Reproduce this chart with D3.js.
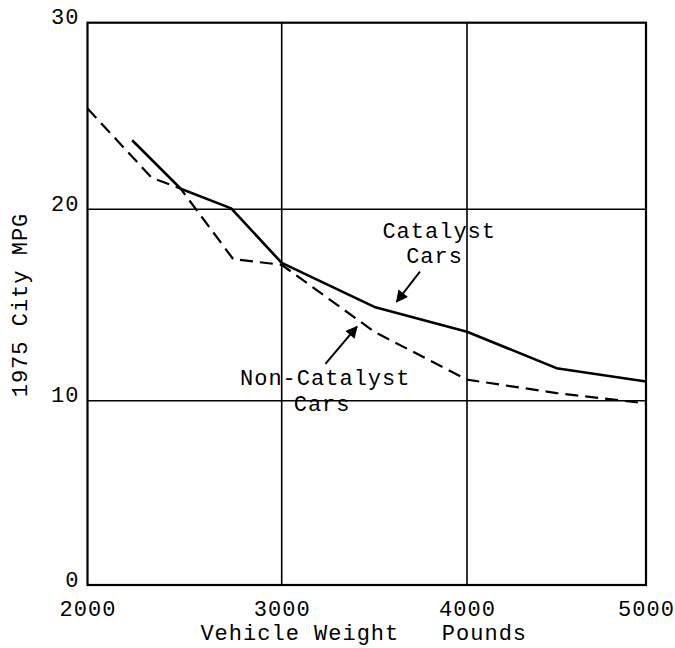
<!DOCTYPE html>
<html>
<head>
<meta charset="utf-8">
<script src="https://cdn.jsdelivr.net/npm/d3@7"></script>
<style>
  html, body { margin: 0; padding: 0; background: #fff; }
  svg { display: block; }
  text { font-family: "Liberation Mono", "DejaVu Sans Mono", monospace; fill: #000; }
</style>
</head>
<body>
<svg id="chart" width="675" height="648"></svg>
<script>
// ---- data ----
const weightTicks = [2000, 3000, 4000, 5000];
const mpgTicks = [0, 10, 20, 30];

const catalystWeight = [2230, 2480, 2740, 3000, 3500, 4000, 4500, 5000];
const catalystMPG    = [23.7, 21.1, 20.05, 17.2, 14.9, 13.6, 11.7, 11.0];

const nonCatalystWeight = [2000, 2330, 2480, 2750, 3000, 3500, 4000, 4500, 5000];
const nonCatalystMPG    = [25.4, 21.7, 21.1, 17.4, 17.1, 13.6, 11.1, 10.4, 9.85];

const xTitle = "Vehicle Weight   Pounds";
const yTitle = "1975 City MPG";

// annotation anchors (data units)
const labelCatalyst = { lines: ["Catalyst", "Cars"], x: [3850, 3825], y: [18.5, 17.2] };
const labelNonCatalyst = { lines: ["Non-Catalyst", "Cars"], x: [3235, 3218], y: [10.82, 9.46] };
const arrowCatalyst = { from: [3746, 16.74], to: [3620, 15.17] };
const arrowNonCatalyst = { from: [3236, 11.92], to: [3406, 13.87] };

// ---- scales ----
const svg = d3.select("#chart");
const x = d3.scaleLinear().domain(weightTicks).range([87.5, 281.7, 467, 646]);
const y = d3.scaleLinear().domain(mpgTicks).range([585, 400.7, 209.3, 22.7]);

const fontSize = 22;

// grid lines
const g = svg.append("g");
g.selectAll(".vgrid").data(weightTicks.slice(1, -1)).join("line")
  .attr("x1", d => x(d)).attr("x2", d => x(d))
  .attr("y1", y(30)).attr("y2", y(0))
  .attr("stroke", "#000").attr("stroke-width", 1.6);
g.selectAll(".hgrid").data(mpgTicks.slice(1, -1)).join("line")
  .attr("x1", x(2000)).attr("x2", x(5000))
  .attr("y1", d => y(d)).attr("y2", d => y(d))
  .attr("stroke", "#000").attr("stroke-width", 1.6);

// frame
g.append("rect")
  .attr("x", x(2000)).attr("y", y(30))
  .attr("width", x(5000) - x(2000)).attr("height", y(0) - y(30))
  .attr("fill", "none").attr("stroke", "#000").attr("stroke-width", 2.2);

// axes (labels only)
const xAxis = svg.append("g")
  .attr("transform", `translate(0,${y(0)})`)
  .call(d3.axisBottom(x).tickValues(weightTicks).tickSize(0).tickFormat(d3.format("d")));
xAxis.select(".domain").remove();
xAxis.selectAll("text")
  .attr("y", 31).attr("dy", 0)
  .style("font-size", fontSize + "px")
  .style("letter-spacing", "1px")
  .style("font-family", '"Liberation Mono", monospace');

const yAxis = svg.append("g")
  .attr("transform", `translate(${x(2000)},0)`)
  .call(d3.axisLeft(y).tickValues(mpgTicks).tickSize(0).tickFormat(d3.format("d")));
yAxis.select(".domain").remove();
yAxis.selectAll("text")
  .attr("x", -8).attr("dy", 0).attr("y", 1)
  .style("font-size", fontSize + "px")
  .style("letter-spacing", "1px")
  .style("font-family", '"Liberation Mono", monospace');

// axis titles
svg.append("text")
  .attr("x", (x(2000) + x(5000)) / 2 - 3).attr("y", 640)
  .attr("text-anchor", "middle")
  .style("font-size", fontSize + "px")
  .style("letter-spacing", "1px")
  .style("white-space", "pre")
  .attr("xml:space", "preserve")
  .text(xTitle);

svg.append("text")
  .attr("transform", `translate(27,${(y(10) + y(20)) / 2}) rotate(-90)`)
  .attr("text-anchor", "middle")
  .style("font-size", fontSize + "px")
  .style("letter-spacing", "1px")
  .text(yTitle);

// lines
const line = d3.line().x(d => x(d[0])).y(d => y(d[1]));
const catalyst = catalystWeight.map((w, i) => [w, catalystMPG[i]]);
const nonCatalyst = nonCatalystWeight.map((w, i) => [w, nonCatalystMPG[i]]);

svg.append("path").datum(nonCatalyst)
  .attr("d", line)
  .attr("fill", "none").attr("stroke", "#000").attr("stroke-width", 2.2)
  .attr("stroke-dasharray", "13,7");

svg.append("path").datum(catalyst)
  .attr("d", line)
  .attr("fill", "none").attr("stroke", "#000").attr("stroke-width", 2.6)
  .attr("stroke-linejoin", "round");

// labels
function drawLabel(lbl) {
  lbl.lines.forEach((t, i) => {
    svg.append("text")
      .attr("x", x(lbl.x[i])).attr("y", y(lbl.y[i]))
      .attr("text-anchor", "middle")
      .style("font-size", fontSize + "px")
      .style("letter-spacing", "1px")
      .text(t);
  });
}
drawLabel(labelCatalyst);
drawLabel(labelNonCatalyst);

// arrows
svg.append("defs").append("marker")
  .attr("id", "head")
  .attr("viewBox", "0 0 10 10")
  .attr("refX", 9).attr("refY", 5)
  .attr("markerWidth", 14).attr("markerHeight", 12)
  .attr("markerUnits", "userSpaceOnUse")
  .attr("orient", "auto")
  .append("path").attr("d", "M0,0 L10,5 L0,10 Z").attr("fill", "#000");

function drawArrow(a) {
  svg.append("line")
    .attr("x1", x(a.from[0])).attr("y1", y(a.from[1]))
    .attr("x2", x(a.to[0])).attr("y2", y(a.to[1]))
    .attr("stroke", "#000").attr("stroke-width", 2)
    .attr("marker-end", "url(#head)");
}
drawArrow(arrowCatalyst);
drawArrow(arrowNonCatalyst);
</script>
</body>
</html>
